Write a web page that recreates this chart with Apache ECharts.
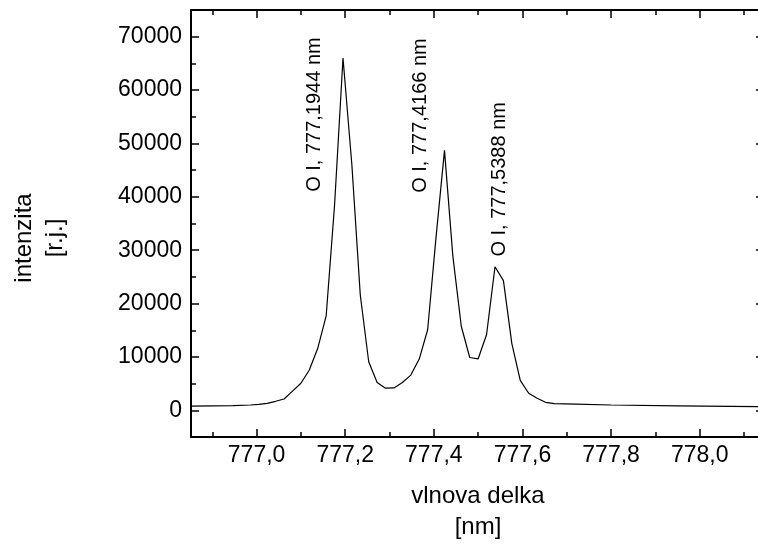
<!DOCTYPE html>
<html><head><meta charset="utf-8">
<script src="https://cdn.jsdelivr.net/npm/echarts@6/dist/echarts.min.js"></script>
<style>html,body{margin:0;padding:0;background:#fff}#c{width:758px;height:546px}</style>
</head><body><div id="c"></div>
<script>
// ---- data ----
const wavelength = [
  776.852, 776.947, 776.986,
  777.005, 777.024, 777.043, 777.062, 777.081, 777.100, 777.119, 777.138, 777.157, 777.176,
  777.195, 777.215, 777.234, 777.253, 777.272, 777.291, 777.310, 777.329, 777.348, 777.367,
  777.386, 777.405, 777.424, 777.443, 777.462, 777.481, 777.500, 777.519, 777.538, 777.557,
  777.576, 777.595, 777.614, 777.633, 777.652, 777.672,
  777.72, 777.80, 777.95, 778.145
];
const intensity = [
  800, 860, 1000,
  1120, 1310, 1690, 2120, 3600, 5060, 7560, 11620, 17680, 38500,
  66000, 46000, 21600, 9100, 5200, 4150, 4200, 5200, 6600, 9600,
  15100, 32500, 48700, 28800, 15700, 9900, 9650, 14200, 26900, 24300,
  12500, 5600, 3200, 2250, 1500, 1250,
  1150, 1000, 850, 660
];
const xMajorTicks = [777.0, 777.2, 777.4, 777.6, 777.8, 778.0];
const xMinorTicks = [776.9, 777.1, 777.3, 777.5, 777.7, 777.9, 778.1];
const yMajorTicks = [0, 10000, 20000, 30000, 40000, 50000, 60000, 70000];
const yMinorTicks = [5000, 15000, 25000, 35000, 45000, 55000, 65000];
const lineLabels = ['O I, 777,1944 nm', 'O I, 777,4166 nm', 'O I, 777,5388 nm'];
const lineLabelAnchors = [[777.1316, 40930], [777.3698, 40750], [777.547, 28800]];
const xTitle = 'vlnova delka\n[nm]';
const yTitle = 'intenzita\n[r.j.]';
const xMin = 776.852, xMax = 778.145, yMin = -5000, yMax = 75000;

// ---- chart ----
const FONT = '"Liberation Sans", Arial, Helvetica, sans-serif';
const chart = echarts.init(document.getElementById('c'), null, {renderer: 'canvas'});
const axisLineStyle = {show: true, onZero: false, lineStyle: {color: '#000', width: 2}};
const noLine = {show: false, onZero: false};
function xAx(pos, ticks, len, labels, line) {
  return {
    type: 'value', position: pos, min: xMin, max: xMax, gridIndex: 0,
    axisLine: line ? axisLineStyle : noLine,
    axisTick: {show: true, inside: true, length: len, customValues: ticks, lineStyle: {color: '#000', width: 1.5}},
    axisLabel: labels ? {show: true, customValues: ticks, color: '#000', fontSize: 23, fontFamily: FONT, margin: 7,
      formatter: v => v.toFixed(1).replace('.', ',')} : {show: false},
    splitLine: {show: false}
  };
}
function yAx(pos, ticks, len, labels, line) {
  return {
    type: 'value', position: pos, min: yMin, max: yMax, gridIndex: 0,
    axisLine: line ? axisLineStyle : noLine,
    axisTick: {show: true, inside: true, length: len, customValues: ticks, lineStyle: {color: '#000', width: 1.5}},
    axisLabel: labels ? {show: true, customValues: ticks, color: '#000', fontSize: 23, fontFamily: FONT, margin: 9,
      formatter: v => String(v)} : {show: false},
    splitLine: {show: false}
  };
}
chart.setOption({
  animation: false,
  backgroundColor: '#fff',
  grid: {left: 191, top: 10, width: 573, height: 427, containLabel: false, outerBoundsMode: 'none'},
  xAxis: [
    xAx('bottom', xMajorTicks, 8, true, true),
    xAx('top', xMajorTicks, 8, false, true),
    xAx('bottom', xMinorTicks, 5, false, false),
    xAx('top', xMinorTicks, 5, false, false)
  ],
  yAxis: [
    yAx('left', yMajorTicks, 8, true, true),
    yAx('right', yMajorTicks, 8, false, true),
    yAx('left', yMinorTicks, 5, false, false),
    yAx('right', yMinorTicks, 5, false, false)
  ],
  series: [{
    type: 'line', xAxisIndex: 0, yAxisIndex: 0,
    data: wavelength.map((w, i) => [w, intensity[i]]),
    symbol: 'none', smooth: false,
    lineStyle: {color: '#000', width: 1.2}
  }]
});

const graphics = lineLabels.map((t, i) => {
  const p = chart.convertToPixel({xAxisIndex: 0, yAxisIndex: 0}, lineLabelAnchors[i]);
  return {type: 'text', x: p[0], y: p[1], rotation: Math.PI / 2,
    style: {text: t, fill: '#000', font: '20px ' + FONT, align: 'left', verticalAlign: 'middle'}};
});
graphics.push({type: 'text', x: 478, y: 512,
  style: {text: xTitle, fill: '#000', font: '24px ' + FONT, align: 'center', verticalAlign: 'middle', lineHeight: 31}});
graphics.push({type: 'text', x: 40, y: 238, rotation: Math.PI / 2,
  style: {text: yTitle, fill: '#000', font: '24px ' + FONT, align: 'center', verticalAlign: 'middle', lineHeight: 31}});
chart.setOption({graphic: graphics});
</script></body></html>
